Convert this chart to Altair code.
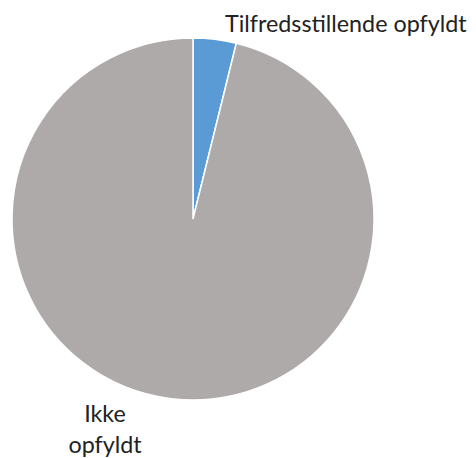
import altair as alt
import pandas as pd

categories = ["Tilfredsstillende opfyldt", "Ikke opfyldt"]
values = [1, 25]
colors = ["#5B9BD5", "#AEAAAA"]

df = pd.DataFrame({"kategori": categories, "antal": values, "orden": [0, 1]})

pie = alt.Chart(df).mark_arc(radius=181, stroke="white", strokeWidth=1.5).encode(
    theta=alt.Theta("antal:Q", stack=True),
    order=alt.Order("orden:Q"),
    color=alt.Color("kategori:N", scale=alt.Scale(domain=categories, range=colors), legend=None),
    x=alt.value(185),
    y=alt.value(211),
)

lab_df = pd.DataFrame({"label": [categories[0], "Ikke\nopfyldt"]})

lab1 = alt.Chart(lab_df.iloc[[0]]).mark_text(
    align="left", baseline="alphabetic", font="Lato", fontSize=23.3, color="#222222"
).encode(text="label:N", x=alt.value(217), y=alt.value(23.5))

lab2 = alt.Chart(lab_df.iloc[[1]]).mark_text(
    align="center", baseline="alphabetic", font="Lato", fontSize=23.3, color="#222222",
    lineBreak="\n", lineHeight=31
).encode(text="label:N", x=alt.value(97), y=alt.value(414))

chart = alt.layer(pie, lab1, lab2).properties(
    width=460, height=450, autosize=alt.AutoSizeParams(type="none"), padding=0
).configure_view(stroke=None)

chart.save("out.html", embed_options={"renderer": "svg", "actions": False})
